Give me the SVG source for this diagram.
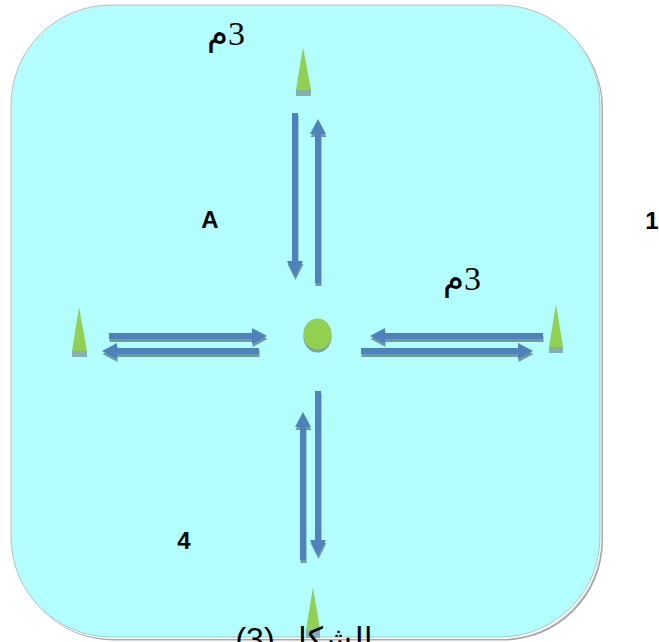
<svg xmlns="http://www.w3.org/2000/svg" width="659" height="642" viewBox="0 0 659 642">
<style>
.arr{fill:#4F81BD}
.sh{fill:#6E9C9C}
.cone{fill:#92D050}
.cbase{fill:#86AEB4}
.lbl{font-family:"Liberation Sans",Arial,sans-serif;font-weight:bold;font-size:24px;fill:#000}
.ar{font-family:"Liberation Serif","DejaVu Sans",serif;font-size:34px;fill:#000}
.cap{font-family:"Liberation Sans","DejaVu Sans",sans-serif;font-size:32px;fill:#000}
</style>
<defs>
<g id="arrows">
<polygon points="292,113 298,113 298,261 303,261 295,277 287,261 292,261"/>
<polygon points="315,283 321,283 321,134 326,134 318,119 310,134 315,134"/>
<polygon points="109,333 252,333 252,328 267,336 252,344 252,339 109,339"/>
<polygon points="259,348 117,348 117,343 102,351 117,359 117,354 259,354"/>
<polygon points="543,333 385,333 385,328 370,336 385,344 385,339 543,339"/>
<polygon points="361,348 518,348 518,343 533,351 518,359 518,354 361,354"/>
<polygon points="300,560 306,560 306,427 311,427 303,412 295,427 300,427"/>
<polygon points="315,391 321,391 321,540 326,540 318,556 310,540 315,540"/>
</g>
</defs>
<g id="frame">
<rect x="14" y="8.5" width="589" height="632" rx="100" ry="100" fill="#A8A8A8"/>
<rect x="12.5" y="7" width="589" height="632" rx="100" ry="100" fill="#FFFFFF"/>
<rect x="11" y="5" width="589" height="632" rx="100" ry="100" fill="#B3FEFF" stroke="#B0B0B0" stroke-width="0.8"/>
</g>
<g id="connectors">
<use href="#arrows" class="sh" transform="translate(0.5,3)"/>
<use href="#arrows" class="arr"/>
</g>
<g id="cone-top">
<rect class="cbase" x="296" y="90" width="15" height="6"/>
<polygon class="cone" points="303,47 311,90 296,90"/>
</g>
<g id="cone-left">
<rect class="cbase" x="72" y="351" width="15" height="6"/>
<polygon class="cone" points="79,307 87,351 72,351"/>
</g>
<g id="cone-right">
<rect class="cbase" x="549" y="347" width="14" height="6"/>
<polygon class="cone" points="556,304 563,347 549,347"/>
</g>
<g id="cone-bottom">
<rect class="cbase" x="306" y="630" width="14" height="8"/>
<polygon class="cone" points="313,587 320,630 306,630"/>
</g>
<g id="center">
<ellipse cx="317.5" cy="337" rx="14" ry="15.5" fill="#7FA4A0"/>
<ellipse cx="317.5" cy="334" rx="14" ry="15.5" fill="#92D050"/>
</g>
<g id="label-A"><text class="lbl" x="210" y="228" text-anchor="middle">A</text></g>
<g id="label-1"><text class="lbl" x="652" y="229" text-anchor="middle">1</text></g>
<g id="label-4"><text class="lbl" x="184" y="549" text-anchor="middle">4</text></g>
<g id="label-3m-top"><text class="ar" x="226" y="45" text-anchor="middle" direction="rtl">3م</text></g>
<g id="label-3m-right"><text class="ar" x="462" y="290" text-anchor="middle" direction="rtl">3م</text></g>
<g id="caption"><text class="cap" x="304" y="650" text-anchor="middle" direction="rtl">الشكل (3)</text></g>
</svg>
